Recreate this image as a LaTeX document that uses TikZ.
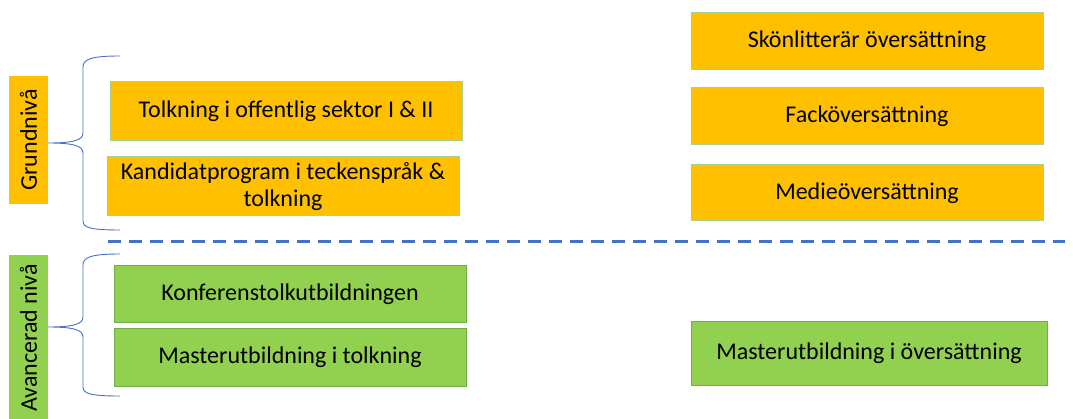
\documentclass[tikz,border=0pt]{standalone}
\usepackage{fontspec}
\setmainfont{Carlito}
\definecolor{boxorange}{HTML}{FFC000}
\definecolor{boxgreen}{HTML}{92D050}
\definecolor{edgegreen}{HTML}{70AD47}
\definecolor{edgelight}{HTML}{A9D18E}
\definecolor{braceblue}{HTML}{4472C4}
\tikzset{
  course/.style={draw, line width=1pt, inner sep=0pt, align=center,
    font=\fontsize{24}{26.5}\selectfont, text=black},
  basic/.style={course, fill=boxorange, draw=edgelight},
  advanced/.style={course, fill=boxgreen, draw=edgegreen},
  levellabel/.style={rotate=90, inner sep=0pt, font=\fontsize{24}{26}\selectfont, text=black},
  levelbrace/.style={draw=braceblue, line width=0.9pt},
  divider/.style={draw=braceblue, line width=3pt, dash pattern=on 13pt off 8pt}
}
\begin{document}
\begin{tikzpicture}[x=1pt,y=-1pt]
\useasboundingbox (0,0) rectangle (1073,419);

% level labels
\node[levellabel, fill=boxorange, minimum width=128, minimum height=39] (grund) at (28.5,140) {Grundnivå};
\node[levellabel, fill=boxgreen, minimum width=166, minimum height=39] (avanc) at (28.5,338) {Avancerad nivå};

% basic level courses
\node[basic, minimum width=352, minimum height=59] (tolk) at (286,111.5) {Tolkning i offentlig sektor I \& II};
\node[basic, minimum width=352, minimum height=59] (kand) at (283,186.5) {Kandidatprogram i teckenspråk \&\\tolkning};
\node[basic, minimum width=352, minimum height=57] (skon) at (867,41.5) {Skönlitterär översättning};
\node[basic, minimum width=352, minimum height=57] (fack) at (867,116.5) {Facköversättning};
\node[basic, minimum width=352, minimum height=56] (medie) at (867,193) {Medieöversättning};

% advanced level courses
\node[advanced, minimum width=352, minimum height=57] (konf) at (290,294.5) {Konferenstolkutbildningen};
\node[advanced, minimum width=352, minimum height=57] (mastt) at (290,357.5) {Masterutbildning i tolkning};
\node[advanced, minimum width=356, minimum height=63] (masto) at (869,353.5) {Masterutbildning i översättning};

% braces
\coordinate (gtop) at (120,56);
\coordinate (gbot) at (120,230);
\coordinate (atop) at (120,254);
\coordinate (abot) at (120,396);
\path[levelbrace] (gtop) .. controls (92,56) and (83,59) .. (83,67) -- (83,133)
  .. controls (83,140) and (74,143) .. (grund.south |- 0,143)
  .. controls (74,143) and (83,146) .. (83,153) -- (83,221)
  .. controls (83,228) and (92,230) .. (gbot);
\path[levelbrace] (atop) .. controls (92,254) and (83,257) .. (83,265) -- (83,317)
  .. controls (83,324) and (74,327) .. (avanc.south |- 0,327)
  .. controls (74,327) and (83,330) .. (83,337) -- (83,387)
  .. controls (83,394) and (92,396) .. (abot);

% divider between the levels
\coordinate (divl) at (108,242);
\coordinate (divr) at (1065,242);
\path[divider] (divl) -- (divr);
\end{tikzpicture}
\end{document}
